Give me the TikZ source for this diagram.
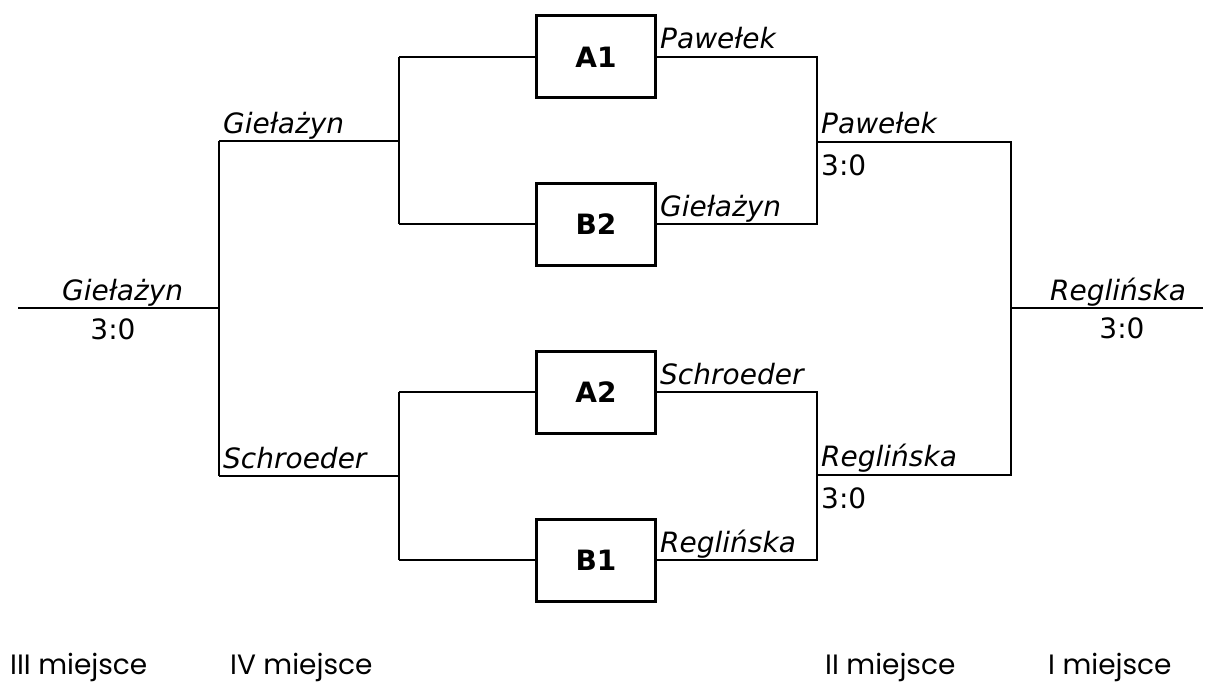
\documentclass[tikz,border=0pt]{standalone}
\usepackage{fontspec}
\setmainfont{DejaVu Sans}
\newfontfamily\placefont{Poppins}
\begin{document}
\begin{tikzpicture}[x=1pt,y=-1pt,
  line/.style={draw=black,line width=2pt},
  team/.style={font=\fontsize{28}{30}\selectfont\itshape,inner sep=0pt,anchor=base west},
  score/.style={font=\fontsize{28}{30}\selectfont,inner sep=0pt,anchor=base west},
  groupbox/.style={draw=black,line width=3pt,minimum width=119pt,minimum height=82pt,inner sep=0pt,font=\fontsize{28}{30}\selectfont\bfseries},
  place/.style={font=\fontsize{28}{30}\placefont,inner sep=0pt,anchor=base west}]
\useasboundingbox (0,0) rectangle (1219,685);
% boxes
\node[groupbox] (A1) at (596,57) {A1};
\node[groupbox] (B2) at (596,224) {B2};
\node[groupbox] (A2) at (596,392) {A2};
\node[groupbox] (B1) at (596,560) {B1};
% coordinates
\coordinate (l0) at (18,308);
\coordinate (l1) at (219,308);
\coordinate (lt) at (219,141);
\coordinate (lb) at (219,476);
\coordinate (ltt) at (399,141);
\coordinate (lbb) at (399,476);
\coordinate (qa1) at (399,57);
\coordinate (qb2) at (399,224);
\coordinate (qa2) at (399,392);
\coordinate (qb1) at (399,560);
\coordinate (ra1) at (817,57);
\coordinate (rb2) at (817,224);
\coordinate (ra2) at (817,392);
\coordinate (rb1) at (817,560);
\coordinate (rt) at (817,142);
\coordinate (rb) at (817,475);
\coordinate (rtt) at (1011,142);
\coordinate (rbb) at (1011,475);
\coordinate (r1) at (1011,308);
\coordinate (r0) at (1203,308);
% left bracket
\draw[line] (l0) -- (l1);
\draw[line] (lt) -- (lb);
\draw[line] (lt) -- (ltt);
\draw[line] (lb) -- (lbb);
\draw[line] (qa1) -- (qb2);
\draw[line] (qa2) -- (qb1);
\draw[line] (qa1) -- (A1.west);
\draw[line] (qb2) -- (B2.west);
\draw[line] (qa2) -- (A2.west);
\draw[line] (qb1) -- (B1.west);
% right bracket
\draw[line] (A1.east) -- (ra1) -- (rb2) -- (B2.east);
\draw[line] (A2.east) -- (ra2) -- (rb1) -- (B1.east);
\draw[line] (rt) -- (rtt) -- (rbb) -- (rb);
\draw[line] (r1) -- (r0);
% labels
\node[team] (t1) at (62,300) {Giełażyn};
\node[score,anchor=base] (s1) at (113,339) {3:0};
\node[team] (t2) at (223,133) {Giełażyn};
\node[team] (t3) at (223,468) {Schroeder};
\node[team] (t4) at (660,49) {Pawełek};
\node[team] (t5) at (660,216) {Giełażyn};
\node[team] (t6) at (660,384) {Schroeder};
\node[team] (t7) at (660,552) {Reglińska};
\node[team] (t8) at (821,133) {Pawełek};
\node[score] (s8) at (821,175) {3:0};
\node[team] (t9) at (821,466) {Reglińska};
\node[score] (s9) at (821,508) {3:0};
\node[team] (t10) at (1050,300) {Reglińska};
\node[score,anchor=base] (s10) at (1122,338) {3:0};
% places
\node[place] (p3) at (10,674) {III miejsce};
\node[place] (p4) at (230,674) {IV miejsce};
\node[place] (p2) at (825,674) {II miejsce};
\node[place] (p1) at (1048,674) {I miejsce};
\end{tikzpicture}
\end{document}
